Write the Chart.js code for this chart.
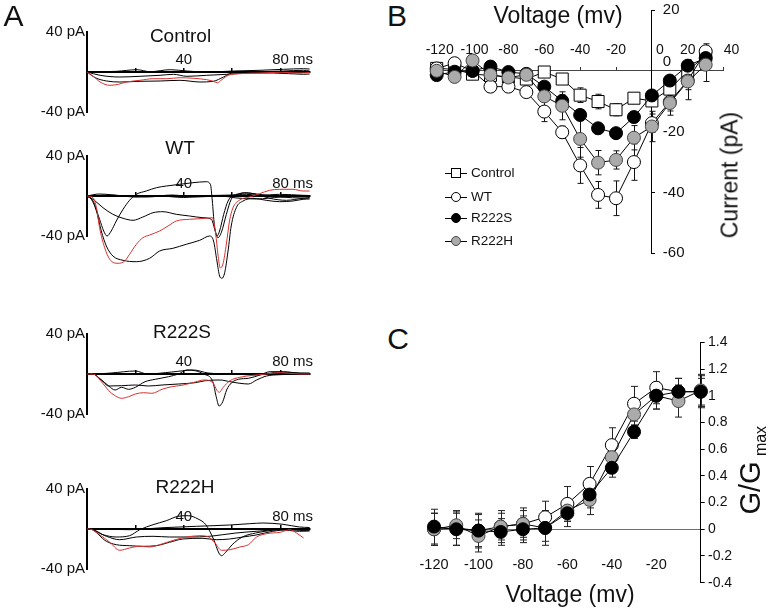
<!DOCTYPE html>
<html><head><meta charset="utf-8">
<script src="https://cdn.jsdelivr.net/npm/chart.js@4.4.1/dist/chart.umd.min.js"></script>
<style>
html,body{margin:0;padding:0;background:#fff;}
#wrap{position:relative;width:768px;height:609px;overflow:hidden;font-family:"Liberation Sans",Arial,sans-serif;color:#111;}
canvas{position:absolute;}
.t{position:absolute;white-space:nowrap;line-height:1;transform:translate(-50%,-50%);}
.r{position:absolute;white-space:nowrap;line-height:1;transform:translate(-50%,-50%) rotate(-90deg);}
.lg{position:absolute;white-space:nowrap;line-height:1;transform:translate(0,-50%);font-size:13.5px;}
</style></head><body><div id="wrap">
<canvas id="aCtrl"></canvas><canvas id="aWT"></canvas><canvas id="aS"></canvas><canvas id="aH"></canvas>
<canvas id="cB"></canvas><canvas id="cC"></canvas>
<div class="t" style="left:13.5px;top:16px;font-size:30px;">A</div>
<div class="t" style="left:397px;top:16px;font-size:30px;">B</div>
<div class="t" style="left:398px;top:339px;font-size:30px;">C</div>
<div class="t" style="left:180.5px;top:35px;font-size:19px;">Control</div>
<div class="t" style="left:180px;top:147px;font-size:19px;">WT</div>
<div class="t" style="left:182px;top:331px;font-size:19px;">R222S</div>
<div class="t" style="left:185px;top:486px;font-size:19px;">R222H</div>
<div class="t" style="left:558px;top:15px;font-size:23px;">Voltage (mv)</div>
<div class="t" style="left:570px;top:594px;font-size:23px;">Voltage (mv)</div>
<div class="r" style="left:730px;top:175px;font-size:23px;">Current (pA)</div>
<div class="r" style="left:750px;top:488px;font-size:29px;">G/G</div>
<div class="r" style="left:761px;top:441px;font-size:16px;">max</div>
<div id="legend"></div>
</div>
<script>
// ---------- Panel A: current traces (time ms, current pA) ----------
const ctrlRed = [[0,0],[2.6,-4.3],[5.4,-10],[9.5,-13.3],[13,-12.3],[16.4,-10],[21.9,-8.3],[27.4,-6.7],[33,-6.7],[38.4,-5.7],[44,-6.3],[49.5,-7.7],[52.2,-9.3],[53.9,-10.7],[55.7,-7.7],[58.4,-3.3],[63.2,-1.7],[71.5,-1],[79.8,-0.3],[88,-1],[92,-0.5]];
const ctrlK1 = [[0,0],[3.4,-5.7],[8.1,-9],[13.6,-10],[21.9,-9.3],[30.2,-9],[38.4,-8.3],[46.7,-10],[52.2,-9.3],[56.4,-5],[59.8,-1],[67.4,0],[81.2,1],[89.5,1.7],[92,1]];
const ctrlK2 = [[0,0],[5.4,-3.3],[13.6,-5],[21.9,-4.3],[30.2,-3.3],[35.7,-2.3],[41.3,-4.3],[49.5,-3.3],[57.8,-2.3],[67.4,-1],[77,-1],[89.5,-2.3],[92,-2]];
const ctrlK3 = [[0,0],[12.3,0.7],[20.6,2.3],[26.1,0.3],[34.4,2.3],[41.3,1],[49.5,0],[60.5,1],[71.5,1.7],[81.2,2.7],[89.5,3.3],[92,3]];

const wtRed = [[0,0],[2.5,-1.7],[3.9,-11.7],[5.2,-31.7],[7.3,-51.7],[9.4,-63.3],[12.8,-67.3],[15.6,-65],[17.6,-58.3],[20.4,-48.3],[23.1,-41.7],[25.9,-39],[30,-35],[33.5,-30],[36.9,-25],[42.4,-23.3],[49.3,-22.3],[51.8,-21.7],[53.2,-38],[54.1,-58],[55.1,-72],[56.2,-68],[57.6,-48],[58.9,-25],[60.3,-12],[63.1,-4],[67.2,-1],[71.3,2.3],[75.5,5.7],[79.6,6.7],[85.1,6.7],[89.3,5],[92,5]];
const wtK1 = [[0,0],[1.8,-3.3],[3.9,-15],[5.9,-35],[8,-50],[10.7,-60],[14.9,-64.3],[20.4,-65.7],[25.9,-62.3],[30,-55],[35.5,-52.3],[41,-48.3],[46.6,-44.3],[50.7,-40],[52.3,-45],[53.7,-65],[54.8,-80],[55.8,-82.3],[56.9,-76.7],[58.3,-55],[59.6,-30],[61.7,-11.7],[64.5,-5],[68.6,-2.3],[74.1,-4.3],[79.6,-5.7],[85.1,-5],[89.3,-3.3],[92,-3]];
const wtK2 = [[0,0],[2.5,-5],[5.2,-23.3],[6.9,-35],[8.3,-40],[10,-35],[12.1,-25],[14.9,-13.3],[17.6,-4.3],[20.4,1.7],[24.5,5],[28.7,8.3],[32.8,10],[38.3,11.7],[43.8,13.3],[49.3,14.3],[51,11.7],[51.8,-5],[52.6,-28.3],[53.7,-40],[54.8,-35],[56.5,-18.3],[58.3,-5],[60.3,0],[65.8,1.7],[71.3,0.7],[79.6,1.7],[89.3,0.7],[92,0.5]];
const wtK3 = [[0,0],[2.5,-3.3],[6.6,-11.7],[10.7,-18.3],[14.9,-22.3],[19,-24.3],[23.1,-21],[27.3,-16.7],[31.4,-15.7],[36.9,-18.3],[42.4,-20],[47.9,-21.7],[51.4,-23.3],[52.8,-33.3],[54.1,-41.7],[55.5,-36.7],[57.6,-18.3],[59.6,-3.3],[62.4,1.7],[65.8,3.3],[70,1.7],[75.5,-2.3],[82.4,-4.3],[89.3,-2.3],[92,-2]];
const wtK4 = [[0,0],[10,1],[20,-1],[30,0],[40,-1.5],[50,0.5],[60,1],[65,3],[70,2],[80,-1],[90,-2],[92,-1.5]];
const wtK5 = [[0,0],[5,2],[15,0],[25,-1],[35,1],[45,-1],[55,0],[62,-2],[70,-3],[80,-1],[90,0],[92,0]];

const sRed = [[0,0],[2.4,0],[6.5,-9.3],[9,-16.7],[11.6,-21.7],[14.3,-24.3],[17.2,-22.7],[20,-20],[23.4,-18.7],[26.8,-19.3],[31,-15.3],[35,-12.7],[39.2,-11.3],[44.7,-8],[48.2,-6],[52.2,-9.3],[53.6,-16],[54.7,-18.3],[56.3,-13.3],[59.1,-6.7],[63.2,-3.3],[68.7,-1.3],[74.2,0],[79.8,1.3],[88,0],[92,0]];
const sK1 = [[0,0],[2.4,0],[5.2,-4.3],[9,-12],[11.6,-16],[14.3,-13.3],[17.2,-15.3],[20,-13.3],[24,-7.7],[28.2,-5.3],[33.7,-2.7],[37.8,0],[41.3,4],[44.7,3.3],[48.2,0],[52,-7.7],[53.4,-22.7],[54.6,-32],[56.1,-27.7],[57.7,-16],[59.8,-8.7],[62.6,-5.3],[66.7,-4.3],[71.5,-1],[75.7,2.3],[81.2,2.3],[88,0.7],[92,0.5]];
const sK2 = [[0,0],[2.4,0],[5.9,-6],[9,-12],[14.3,-11.7],[20,-11],[25.4,-12],[31,-11],[37.8,-10],[44.7,-8.7],[48.9,-6.7],[55,-6],[59.1,-7.7],[63.2,-9.3],[66.7,-10],[70.1,-6],[74.2,-2],[79.8,-0.7],[88,0],[92,0]];
const sK3 = [[0,0],[2.4,0],[10,1],[20,3],[25,0],[35,2],[44,4],[50,1],[60,0],[70,-1],[80,2],[88,1],[92,1]];

const hRed = [[0,0],[1.1,0],[5.2,-5.7],[9.4,-13.3],[13.5,-21.3],[17.6,-19],[21.8,-17.3],[25.9,-18],[30,-15.7],[35.7,-11.3],[41.2,-8],[46.7,-6.7],[50.2,-8],[52.9,-14],[55.6,-21.3],[59.1,-20.7],[63.2,-18],[66.7,-15.7],[70.1,-8],[74.2,-4.7],[79.8,-3.3],[83.9,-0.7],[86.6,-4],[89.5,-9]];
const hK1 = [[0,0],[1.1,0],[6.6,-5.7],[12.1,-8],[17.6,-6.7],[21.8,-0.7],[27.3,4.3],[32.8,8.3],[37.6,12.7],[41.8,13.3],[45.9,10],[49.1,4.3],[52.4,-10.7],[54.5,-24],[55.6,-26.7],[57.3,-23.3],[60,-15.7],[64.2,-8],[69.7,-4],[76.6,-1.3],[82.2,0],[89.5,-1.3],[92,-1]];
const hK2 = [[0,0],[1.1,0],[8,-12.3],[12.1,-15.7],[17.6,-16.7],[23.1,-17.3],[28.6,-16.7],[34.1,-13.3],[39.6,-10],[47.9,-9.3],[53.4,-10.7],[58.9,-10],[64.4,-8],[69.9,-6],[76.8,-2.3],[83.7,-0.7],[89.5,-1.3],[92,-1]];
const hK3 = [[0,0],[1.1,0],[8,-7.3],[13.5,-10.7],[20.4,-8],[27.3,-7.3],[34.1,-8],[42.4,-8],[50.6,-7.3],[56.1,-5.7],[61.6,-4],[69.9,-2.3],[79.6,-0.7],[87.8,-2.3],[92,-2]];
const hK4 = [[0,0],[1.1,0],[17.6,-0.7],[31.4,1.3],[45.2,2.7],[58.9,4],[67.2,5.3],[72.7,6],[81,4.7],[87.8,2],[92,1.5]];

// ---------- Panel B: I-V ----------
const V_B = [-120,-110,-100,-90,-80,-70,-60,-50,-40,-30,-20,-10,0,10,20,30];
const ivControl = [0.8,0.5,-1.1,-1.5,-2.0,-2.7,-0.4,-2.7,-8.0,-10.1,-12.8,-9.0,-9.9,-6.0,0.0,5.0];
const ivWT = [0.8,2.5,0.0,-5.2,-5.2,-7.0,-13.4,-20.2,-31.1,-40.8,-41.9,-30.0,-17.2,-10.2,-3.2,6.4];
const ivR222S = [-1.4,-0.3,0.0,1.4,-0.4,-1.0,-5.2,-9.9,-14.5,-18.9,-20.5,-15.2,-8.1,-3.2,1.7,4.2];
const ivR222H = [0.0,-2.0,3.4,-1.3,-2.2,-1.3,-8.4,-11.5,-22.4,-30.2,-29.3,-22.0,-18.3,-10.6,-3.5,2.0];
const errControl = [1,1,1,1,1,1,0.6,1,2.4,2.4,2,1.2,1.5,2,2,3];
const errWT = [1,1,1,1.5,1.5,1,3.3,2,5.9,4.4,5.7,6,3,3,3,2.5];
const errR222S = [1,1,1,1,1,1,1,2,1.5,1,1,1,1.5,1.5,2,2];
const errR222H = [1,1,1,1,1,1,1.5,4.6,6,4,3,4,5,4,6,5.5];
const seriesNames = ['Control','WT','R222S','R222H'];

// ---------- Panel C: G/Gmax ----------
const V_C = [-120,-110,-100,-90,-80,-70,-60,-50,-40,-30,-20,-10,0];
const gWT = [0.0,0.01,-0.01,0.02,0.04,0.09,0.19,0.34,0.63,0.94,1.06,1.03,1.03];
const gR222H = [0.0,0.03,-0.05,0.02,0.04,0.01,0.14,0.22,0.54,0.86,1.0,0.96,1.04];
const gR222S = [0.02,0.0,-0.01,-0.02,0.0,0.01,0.12,0.26,0.46,0.73,1.0,1.03,1.03];
const eWT = [0.12,0.13,0.13,0.12,0.12,0.12,0.13,0.13,0.13,0.13,0.12,0.1,0.12];
const eR222H = [0.12,0.1,0.12,0.1,0.1,0.1,0.08,0.11,0.1,0.08,0.1,0.12,0.12];
const eR222S = [0.13,0.12,0.12,0.1,0.1,0.13,0.1,0.1,0.07,0.05,0.1,0.1,0.1];

const FONT = '"Liberation Sans", Arial, sans-serif';
const RED = '#d8322e', GRAY = '#ababab';

const tickText = {
  id: 'tickText',
  afterDraw(chart, args, opts) {
    const ctx = chart.ctx;
    (opts.items || []).forEach(it => {
      const sc = chart.scales[it.scale];
      ctx.save();
      ctx.font = it.font; ctx.fillStyle = '#111'; ctx.textBaseline = 'middle'; ctx.textAlign = it.align || 'center';
      const c = it.cross(chart);
      sc.ticks.forEach(tk => {
        const txt = it.text(tk.value);
        if (!txt) return;
        const p = sc.getPixelForValue(tk.value);
        const off = it.offset ? it.offset(tk.value, ctx) : [0, 0];
        if (sc.isHorizontal()) ctx.fillText(txt, p + off[0], c + off[1]);
        else ctx.fillText(txt, c + off[0], p + off[1]);
      });
      ctx.restore();
    });
  }
};
const errBars = {
  id: 'errBars',
  beforeDatasetsDraw(chart, args, opts) {
    const ctx = chart.ctx, x = chart.scales.x, y = chart.scales.y;
    (opts.sets || []).forEach(s => {
      ctx.save(); ctx.strokeStyle = opts.color || '#000'; ctx.lineWidth = 1;
      s.xs.forEach((xv, i) => {
        const e = s.err[i]; if (!e) return;
        const px = Math.round(x.getPixelForValue(xv)) + 0.5;
        const p1 = y.getPixelForValue(s.ys[i] - e), p2 = y.getPixelForValue(s.ys[i] + e);
        const w = opts.cap || 3;
        ctx.beginPath();
        ctx.moveTo(px, p1); ctx.lineTo(px, p2);
        ctx.moveTo(px - w, p1); ctx.lineTo(px + w, p1);
        ctx.moveTo(px - w, p2); ctx.lineTo(px + w, p2);
        ctx.stroke();
      });
      ctx.restore();
    });
  }
};
Chart.register(tickText, errBars);

function noPad(s) { s.paddingLeft = 0; s.paddingRight = 0; s.paddingTop = 0; s.paddingBottom = 0; }

function makeTrace(id, zeroY, traces) {
  const cv = document.getElementById(id);
  const padTop = 24, padBottom = 52;
  cv.width = 330; cv.height = padTop + 80 + padBottom;
  cv.style.left = '0px'; cv.style.top = (zeroY - 40 - padTop) + 'px';
  new Chart(cv, {
    type: 'line',
    data: { datasets: traces.map(tr => ({
      data: tr[0].map(p => ({ x: p[0], y: p[1] })), borderColor: tr[1], borderWidth: 1,
      pointRadius: 0, cubicInterpolationMode: 'monotone', clip: false, fill: false })) },
    options: {
      responsive: false, animation: false, events: [],
      layout: { padding: { left: 0, right: 330 - 309.6, top: padTop, bottom: padBottom } },
      plugins: { legend: { display: false }, tooltip: { enabled: false },
        tickText: { items: [{ scale: 'x', font: '15px ' + FONT,
          text: v => v === 40 ? '40' : (v === 80 ? '80 ms' : ''),
          cross: ch => ch.scales.y.getPixelForValue(0) - 12,
          offset: (v, ctx) => v === 80 ? [(ctx.measureText('80 ms').width - ctx.measureText('80').width) / 2, 0] : [0, 0] }] } },
      scales: {
        x: { type: 'linear', min: 0, max: 92, position: { y: 0 },
          afterFit: s => { s.height = 0; noPad(s); },
          ticks: { display: false, stepSize: 20, includeBounds: false },
          grid: { display: true, drawOnChartArea: false, drawTicks: true, tickLength: -5, color: '#000', lineWidth: 1.5 },
          border: { display: true, color: '#000', width: 2 } },
        y: { type: 'linear', min: -40, max: 40, position: 'left',
          afterFit: s => { s.width = 87; noPad(s); },
          afterBuildTicks: s => { s.ticks = [{ value: -40 }, { value: 40 }]; },
          ticks: { callback: v => v + ' pA', font: { family: FONT, size: 15 }, color: '#111', padding: 2 },
          grid: { display: false, drawTicks: false },
          border: { display: true, color: '#000', width: 2 } }
      }
    }
  });
}
makeTrace('aCtrl', 72, [[ctrlRed, RED], [ctrlK1, '#000'], [ctrlK2, '#000'], [ctrlK3, '#000']]);
makeTrace('aWT', 196, [[wtRed, RED], [wtK1, '#000'], [wtK2, '#000'], [wtK3, '#000'], [wtK4, '#000'], [wtK5, '#000']]);
makeTrace('aS', 374, [[sRed, RED], [sK1, '#000'], [sK2, '#000'], [sK3, '#000']]);
makeTrace('aH', 529, [[hRed, RED], [hK1, '#000'], [hK2, '#000'], [hK3, '#000'], [hK4, '#000']]);

// ---------- Panel B chart ----------
function ser(xs, ys, style, fill, radius, border) {
  return { data: xs.map((v, i) => ({ x: v, y: ys[i] })), borderColor: '#000', borderWidth: 1,
    pointStyle: style, pointRadius: radius, pointBackgroundColor: fill, pointBorderColor: border || '#000',
    pointBorderWidth: 1, clip: false, fill: false, tension: 0 };
}
(function () {
  const cv = document.getElementById('cB');
  cv.width = 348; cv.height = 270; cv.style.left = '420px'; cv.style.top = '0px';
  new Chart(cv, {
    type: 'line',
    data: { datasets: [
      ser(V_B, ivR222H, 'circle', GRAY, 6.5, '#444'),
      ser(V_B, ivR222S, 'circle', '#000', 6.5),
      ser(V_B, ivWT, 'circle', '#fff', 6.5),
      ser(V_B, ivControl, 'rect', '#fff', 8.5)
    ] },
    options: {
      responsive: false, animation: false, events: [],
      layout: { padding: { left: 13.1, right: 44.4, top: 10, bottom: 16.7 } },
      plugins: { legend: { display: false }, tooltip: { enabled: false },
        errBars: { cap: 3, color: '#111', sets: [
          { xs: V_B, ys: ivControl, err: errControl }, { xs: V_B, ys: ivWT, err: errWT },
          { xs: V_B, ys: ivR222S, err: errR222S }, { xs: V_B, ys: ivR222H, err: errR222H }] },
        tickText: { items: [
          { scale: 'x', font: '14px ' + FONT, text: v => String(v),
            cross: ch => ch.scales.y.getPixelForValue(0) - 21,
            offset: v => [({ '-120': 3, '-100': 2, '0': 8, '40': 8 })[v] || 0, 0] },
          { scale: 'y', font: '15px ' + FONT, align: 'left', text: v => String(v),
            cross: ch => ch.scales.x.getPixelForValue(0) + 11,
            offset: v => [0, v === 0 ? -9 : 0] }] } },
      scales: {
        x: { type: 'linear', min: -122, max: 40, position: { y: 0 },
          afterFit: s => { s.height = 0; noPad(s); },
          ticks: { display: false, stepSize: 20, includeBounds: false },
          grid: { display: true, drawOnChartArea: false, drawTicks: true, tickLength: -4, color: '#333' },
          border: { display: true, color: '#444', width: 1 } },
        y: { type: 'linear', min: -60, max: 20, position: { x: 0 },
          afterFit: s => { s.width = 0; noPad(s); },
          ticks: { display: false, stepSize: 20 },
          grid: { display: true, drawOnChartArea: false, drawTicks: true, tickLength: -4, color: '#000' },
          border: { display: true, color: '#000', width: 1 } }
      }
    }
  });
  // legend
  const lg = document.getElementById('legend');
  const ys = [173, 197, 218, 241];
  const marks = [['rect', '#fff', '#000'], ['circle', '#fff', '#000'], ['circle', '#000', '#000'], ['circle', GRAY, '#444']];
  seriesNames.forEach((n, i) => {
    const y = ys[i];
    const line = document.createElement('div');
    line.style.cssText = `position:absolute;left:445px;top:${y - 0.5}px;width:22px;height:0;border-top:1px solid #000;`;
    const m = document.createElement('div');
    m.style.cssText = `position:absolute;left:451px;top:${y - 5}px;width:10px;height:10px;box-sizing:border-box;border:1px solid ${marks[i][2]};background:${marks[i][1]};` + (marks[i][0] === 'circle' ? 'border-radius:50%;' : '');
    const t = document.createElement('div');
    t.className = 'lg'; t.style.left = '471px'; t.style.top = y + 'px'; t.textContent = n;
    lg.appendChild(line); lg.appendChild(m); lg.appendChild(t);
  });
})();

// ---------- Panel C chart ----------
(function () {
  const cv = document.getElementById('cC');
  cv.width = 348; cv.height = 279; cv.style.left = '420px'; cv.style.top = '330px';
  new Chart(cv, {
    type: 'line',
    data: { datasets: [
      ser(V_C, gR222S, 'circle', '#000', 6.5),
      ser(V_C, gR222H, 'circle', GRAY, 6.5, '#444'),
      ser(V_C, gWT, 'circle', '#fff', 6.5)
    ] },
    options: {
      responsive: false, animation: false, events: [],
      layout: { padding: { left: 10.7, right: 7.3, top: 12.3, bottom: 26.3 } },
      plugins: { legend: { display: false }, tooltip: { enabled: false },
        errBars: { cap: 3.5, color: '#222', sets: [
          { xs: V_C, ys: gWT, err: eWT }, { xs: V_C, ys: gR222H, err: eR222H }, { xs: V_C, ys: gR222S, err: eR222S }] } },
      scales: {
        x: { type: 'linear', min: -121.5, max: 0, position: { y: 0 },
          afterFit: s => { s.height = 0; noPad(s); },
          ticks: { stepSize: 20, includeBounds: false, padding: 27, color: '#111', font: { family: FONT, size: 14.5 },
            callback: v => v === 0 ? '' : String(v) },
          grid: { display: false, drawTicks: false },
          border: { display: true, color: '#6e6e6e', width: 1 } },
        y: { type: 'linear', min: -0.4, max: 1.4, position: 'right',
          afterFit: s => { s.width = 60; noPad(s); },
          ticks: { stepSize: 0.2, padding: 3.3, color: '#111', font: { family: FONT, size: 14 },
            callback: v => String(Math.round(v * 10) / 10) },
          grid: { display: true, drawOnChartArea: false, drawTicks: true, tickLength: 4, color: '#000' },
          border: { display: true, color: '#000', width: 1 } }
      }
    }
  });
})();
</script></body></html>
